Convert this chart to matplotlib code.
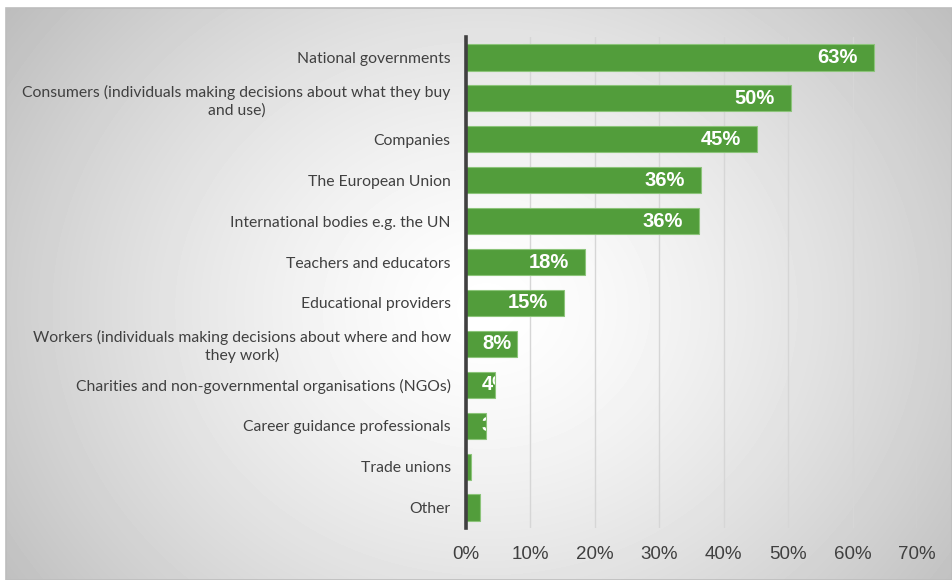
"""Horizontal bar chart: who is responsible (share of respondents)."""
import matplotlib.pyplot as plt
import numpy as np
from matplotlib.patches import Rectangle

CATEGORIES = [
    "National governments",
    "Consumers (individuals making decisions about what they buy\nand use)",
    "Companies",
    "The European Union",
    "International bodies e.g. the UN",
    "Teachers and educators",
    "Educational providers",
    "Workers (individuals making decisions about where and how\nthey work)",
    "Charities and non-governmental organisations (NGOs)",
    "Career guidance professionals",
    "Trade unions",
    "Other",
]
SHARES = [0.633, 0.504, 0.451, 0.364, 0.361, 0.184, 0.152, 0.079, 0.045, 0.031, 0.007, 0.022]
XTICKS = [0.0, 0.1, 0.2, 0.3, 0.4, 0.5, 0.6, 0.7]

W, H, DPI = 952, 580, 100
GREEN = "#529d3b"

fig = plt.figure(figsize=(W / DPI, H / DPI), dpi=DPI)
fig.patch.set_facecolor("white")

# radial grey gradient panel
bg = fig.add_axes([6 / W, 0, (W - 6) / W, (H - 8) / H])
yy, xx = np.mgrid[0:572, 0:946]
r = np.sqrt(((xx - 480) / 560) ** 2 + ((yy - 300) / 480) ** 2)
shade = np.clip(1.0 - 0.24 * r ** 1.4, 0, 1)
bg.imshow(shade, cmap="gray", vmin=0, vmax=1, aspect="auto",
          extent=[0, 1, 0, 1], interpolation="bilinear")
bg.set_axis_off()
bg.add_patch(Rectangle((0, 0), 1, 1, transform=bg.transAxes, fill=False,
                       edgecolor="#bdbdbd", linewidth=1.2, clip_on=False))

ax = fig.add_axes([466 / W, (H - 528) / H, 451 / W, 491 / H])
ax.patch.set_alpha(0)
y = np.arange(len(CATEGORIES))
bars = ax.barh(y, SHARES, height=0.64, color=GREEN, edgecolor="#8cc47a",
               linewidth=0.8, zorder=3)
ax.set_xlim(0, 0.7)
ax.set_ylim(len(CATEGORIES) - 0.5, -0.5)

ax.set_xticks(XTICKS)
ax.set_xticklabels([f"{int(round(t * 100))}%" for t in XTICKS],
                   fontfamily="Liberation Sans", fontsize=13.5, color="#404040")
ax.set_yticks(y)
ax.set_yticklabels(CATEGORIES, fontfamily="Lato", fontsize=11.3,
                   color="#404040", linespacing=1.25)
ax.tick_params(axis="x", length=0, pad=13)
ax.tick_params(axis="y", length=0, pad=11)
for lbl in ax.get_yticklabels():
    lbl.set_multialignment("center")

ax.grid(axis="x", color="#d6d6d6", linewidth=1, zorder=0)
for side in ("top", "right", "bottom"):
    ax.spines[side].set_visible(False)
ax.spines["left"].set_color("#404040")
ax.spines["left"].set_linewidth(2.6)
ax.spines["left"].set_zorder(5)

# value labels sit inside the bar end and get clipped by the bar
px = 72 / DPI
for bar, v in zip(bars, SHARES):
    yc = bar.get_y() + bar.get_height() / 2
    if v >= 0.1:
        t = ax.annotate(f"{v:.0%}", (v, yc), xytext=(-16 * px, 0),
                        textcoords="offset points", ha="right", va="center",
                        color="white", fontweight="bold", fontsize=14.5,
                        fontfamily="Liberation Sans", zorder=4)
    else:
        t = ax.annotate(f"{v:.0%}", (0, yc), xytext=(16 * px, 0),
                        textcoords="offset points", ha="left", va="center",
                        color="white", fontweight="bold", fontsize=14.5,
                        fontfamily="Liberation Sans", zorder=4)
    t.set_clip_path(bar)

fig.savefig("out.png", dpi=DPI)
